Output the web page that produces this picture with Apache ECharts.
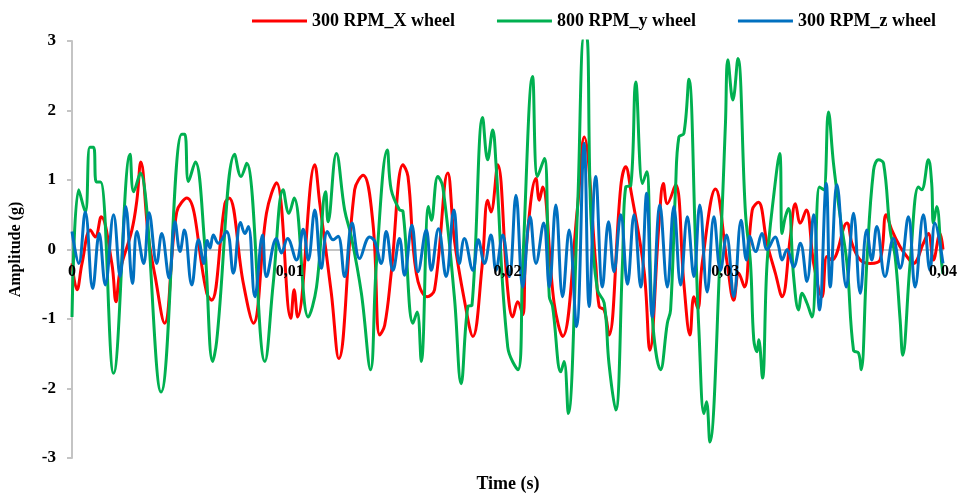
<!DOCTYPE html>
<html>
<head>
<meta charset="utf-8">
<script src="https://cdn.jsdelivr.net/npm/echarts@6/dist/echarts.min.js"></script>
<style>html,body{margin:0;padding:0;background:#fff;}#chart{width:967px;height:494px;}</style>
</head>
<body>
<div id="chart"></div>
<script>
// Series names
const seriesNames = ['300 RPM_X wheel', '800 RPM_y wheel', '300 RPM_z wheel'];
// Tick labels
const xTickLabels = ['0', '0,01', '0,02', '0,03', '0,04'];
const yTickLabels = ['-3', '-2', '-1', '0', '1', '2', '3'];

// [time (s), amplitude (g)]
const redX = [[0,-0.2],[0.00023,-0.58],[0.00046,-0.2],[0.00084,0.28],[0.00107,0.18],[0.00134,0.47],[0.00183,-0.2],[0.00202,-0.75],[0.00221,-0.3],[0.00275,0.28],[0.00298,0.71],[0.00316,1.26],[0.00351,0.18],[0.00382,-0.39],[0.00425,-1.06],[0.00481,0.54],[0.00527,0.74],[0.00619,-0.63],[0.00641,-0.73],[0.00702,0.66],[0.00721,0.74],[0.00787,-0.49],[0.00833,-1.06],[0.00893,0.52],[0.00939,0.96],[0.01005,-0.99],[0.01020,-0.58],[0.01036,-0.97],[0.01115,1.22],[0.01138,0.66],[0.01191,-0.63],[0.01225,-1.57],[0.01298,0.86],[0.01337,1.07],[0.01382,0.38],[0.01413,-1.23],[0.01436,-1.09],[0.01466,-0.34],[0.01520,1.22],[0.01543,1.05],[0.01581,-0.34],[0.01631,-0.68],[0.01665,-0.58],[0.01726,1.1],[0.01756,0.14],[0.01802,-0.73],[0.01841,-1.25],[0.01883,-0.25],[0.01909,0.71],[0.01924,0.54],[0.01955,1.22],[0.02001,-0.58],[0.02024,-0.97],[0.02047,-0.75],[0.02070,-0.94],[0.02085,0.0],[0.02131,1.02],[0.02146,0.71],[0.02161,0.9],[0.02214,-0.77],[0.02253,-1.25],[0.02322,0.62],[0.02352,1.62],[0.02405,-0.2],[0.02421,-0.82],[0.02444,-0.87],[0.02466,-1.23],[0.02520,0.9],[0.02543,1.19],[0.02566,0.86],[0.02627,-0.3],[0.02654,-1.45],[0.02696,0.38],[0.02716,0.95],[0.02734,0.66],[0.02772,0.93],[0.02810,-0.49],[0.02838,-1.23],[0.02856,-0.68],[0.02874,-0.85],[0.02894,-0.2],[0.02955,0.87],[0.03009,-0.2],[0.03039,-0.73],[0.03062,-0.34],[0.03088,-0.54],[0.03124,0.57],[0.03152,0.68],[0.03192,0.09],[0.03230,-0.34],[0.03261,-0.68],[0.03299,0.18],[0.03322,0.66],[0.03345,0.38],[0.03372,0.57],[0.03406,-0.2],[0.03444,-0.68],[0.03467,-0.1],[0.03490,-0.15],[0.03559,0.38],[0.03582,0.09],[0.03620,-0.15],[0.03666,-0.2],[0.03711,-0.15],[0.03739,0.5],[0.03765,0.28],[0.03803,0.04],[0.03834,-0.1],[0.03864,-0.2],[0.03910,0.09],[0.03933,0.23],[0.03956,-0.15],[0.03986,0.23],[0.04,0.0]];

const greenY = [[0,-0.97],[0.00031,0.86],[0.00061,0.54],[0.00082,1.47],[0.00099,1.47],[0.00112,0.97],[0.00131,0.97],[0.00191,-1.78],[0.00267,1.37],[0.00283,0.83],[0.00313,1.1],[0.00409,-2.05],[0.00504,1.66],[0.00518,1.66],[0.00535,0.98],[0.00566,1.26],[0.00609,0.09],[0.00646,-1.61],[0.00664,-1.33],[0.00748,1.37],[0.00776,1.05],[0.00802,1.24],[0.00886,-1.61],[0.00924,-0.49],[0.00970,0.86],[0.00996,0.52],[0.01020,0.74],[0.01085,-0.97],[0.01123,-0.54],[0.01165,0.83],[0.01176,0.4],[0.01214,1.38],[0.01252,0.57],[0.01283,0.18],[0.01329,-0.63],[0.01371,-1.73],[0.01398,-0.2],[0.01448,1.43],[0.01466,0.86],[0.01504,0.57],[0.01520,0.55],[0.01566,-1.06],[0.01585,-0.9],[0.01604,-1.61],[0.01637,0.62],[0.01650,0.42],[0.01680,1.05],[0.01703,0.9],[0.01756,-0.68],[0.01787,-1.93],[0.01818,-0.82],[0.01837,-0.8],[0.01886,1.9],[0.01909,1.29],[0.01932,1.72],[0.01947,1.24],[0.02001,-1.4],[0.02048,-1.73],[0.02070,-0.2],[0.02115,2.49],[0.02138,1.05],[0.02169,1.31],[0.02192,-0.68],[0.02207,-0.82],[0.02245,-1.76],[0.02260,-1.61],[0.02279,-2.36],[0.02322,0.62],[0.02351,3.05],[0.02364,3.05],[0.02383,0.47],[0.02413,-0.58],[0.02444,-0.77],[0.02466,-1.64],[0.02497,-2.31],[0.02528,-0.2],[0.02543,0.9],[0.02566,0.92],[0.02589,2.41],[0.02620,0.95],[0.02639,1.12],[0.02665,-0.97],[0.02703,-1.73],[0.02734,-1.06],[0.02749,-0.87],[0.02772,0.9],[0.02787,1.62],[0.02810,1.67],[0.02833,2.45],[0.02864,0.04],[0.02879,-1.16],[0.02902,-2.36],[0.02914,-2.19],[0.02929,-2.77],[0.02978,0.04],[0.03001,1.82],[0.03012,2.73],[0.03035,2.15],[0.03058,2.75],[0.03093,0.52],[0.03116,-0.2],[0.03131,-1.3],[0.03146,-1.47],[0.03154,-1.3],[0.03171,-1.85],[0.03192,-0.2],[0.03222,0.76],[0.03250,1.38],[0.03261,0.23],[0.03276,0.47],[0.03291,0.59],[0.03314,-0.39],[0.03337,-0.87],[0.03353,-0.63],[0.03375,-0.77],[0.03398,-0.97],[0.03433,0.9],[0.03452,0.86],[0.03474,1.98],[0.03497,1.24],[0.03528,0.47],[0.03559,-0.2],[0.03589,-1.45],[0.03612,-1.49],[0.03624,-1.73],[0.03650,-0.2],[0.03681,1.14],[0.03704,1.29],[0.03727,1.24],[0.03757,0.28],[0.03780,-0.1],[0.03803,-1.01],[0.03815,-1.52],[0.03849,-0.2],[0.03887,0.9],[0.03902,0.86],[0.03933,1.29],[0.03948,0.95],[0.03956,0.38],[0.03971,0.62],[0.03994,-0.2],[0.04,-0.35]];

const blueZ = [[0,0.26],[0.00031,-0.2],[0.00061,0.54],[0.00095,-0.56],[0.00125,0.23],[0.00153,-0.51],[0.00191,0.5],[0.00221,-0.39],[0.00247,0.62],[0.00278,-0.49],[0.00298,0.26],[0.00329,-0.2],[0.00354,0.53],[0.00389,-0.2],[0.00412,0.23],[0.00446,-0.41],[0.00473,0.4],[0.00496,-0.03],[0.00516,0.28],[0.00550,-0.51],[0.00581,0.14],[0.00606,-0.2],[0.00621,0.13],[0.00634,0.02],[0.00649,0.21],[0.00672,0.09],[0.00710,0.26],[0.00741,-0.34],[0.00774,0.39],[0.00794,0.23],[0.00810,0.33],[0.00840,-0.68],[0.00875,0.21],[0.00893,-0.39],[0.00939,0.16],[0.00962,-0.05],[0.00990,0.16],[0.01031,-0.15],[0.01062,0.29],[0.01085,-0.15],[0.01115,0.57],[0.01145,-0.27],[0.01173,0.26],[0.01199,0.14],[0.01222,0.19],[0.01252,-0.39],[0.01286,0.38],[0.01321,-0.13],[0.01367,0.18],[0.01390,0.12],[0.01420,-0.2],[0.01443,0.26],[0.01474,-0.3],[0.01504,0.16],[0.01527,-0.37],[0.01561,0.35],[0.01589,-0.32],[0.01627,0.28],[0.01650,-0.3],[0.01683,0.3],[0.01718,-0.39],[0.01754,0.57],[0.01779,-0.2],[0.01802,0.16],[0.01841,-0.3],[0.01866,0.14],[0.01894,-0.2],[0.01924,0.21],[0.01947,-0.3],[0.01978,0.21],[0.02008,-0.39],[0.02039,0.78],[0.02070,-0.54],[0.02104,0.47],[0.02131,-0.2],[0.02166,0.38],[0.02192,-0.54],[0.02222,0.64],[0.02253,-0.68],[0.02283,0.28],[0.02317,-1.11],[0.02352,1.53],[0.02375,-0.82],[0.02405,1.05],[0.02436,-0.54],[0.02464,0.4],[0.02489,-0.32],[0.02520,0.5],[0.02551,-0.5],[0.02581,0.5],[0.02612,-0.54],[0.02639,0.81],[0.02665,-0.97],[0.02700,0.64],[0.02734,-0.54],[0.02764,0.62],[0.02795,-0.51],[0.02826,0.47],[0.02856,-0.39],[0.02883,0.64],[0.02917,-0.61],[0.02948,0.47],[0.02978,-0.3],[0.03006,0.21],[0.03039,-0.68],[0.03073,0.42],[0.03097,-0.15],[0.03113,0.19],[0.03139,-0.03],[0.03169,0.23],[0.03192,0.0],[0.03230,0.18],[0.03245,0.05],[0.03261,-0.15],[0.03284,0.0],[0.03314,-0.25],[0.03345,0.09],[0.03375,-0.46],[0.03406,0.5],[0.03433,-0.87],[0.03464,0.95],[0.03482,-0.54],[0.03513,0.93],[0.03556,-0.54],[0.03589,0.52],[0.03620,-0.63],[0.03650,0.28],[0.03673,-0.15],[0.03696,0.33],[0.03734,-0.39],[0.03772,0.16],[0.03803,-0.27],[0.03841,0.47],[0.03872,-0.54],[0.03910,0.5],[0.03940,-0.3],[0.03963,0.38],[0.04,-0.2]];

const FONT = '"Liberation Serif", "Times New Roman", serif';
const colors = ['#FF0000', '#00B050', '#0070C0'];
const chart = echarts.init(document.getElementById('chart'), null, {renderer: 'canvas'});
const mkSeries = (name, data, color) => ({
  name: name, type: 'line', data: data, smooth: 0.4, symbol: 'none', showSymbol: false,
  xAxisIndex: 0, lineStyle: {color: color, width: 3}, itemStyle: {color: color}, clip: true
});
const xBase = {type: 'value', min: 0, max: 0.04, interval: 0.01, position: 'bottom', offset: -208.5,
  axisTick: {show: false}, splitLine: {show: false}};
chart.setOption({
  animation: false,
  backgroundColor: '#fff',
  grid: {left: 70, right: 24, top: 41, bottom: 36, containLabel: false},
  legend: {
    top: 7, left: 247, itemWidth: 55, itemHeight: 3, itemGap: 42, icon: 'rect',
    textStyle: {fontFamily: FONT, fontWeight: 'bold', fontSize: 18, color: '#000'},
    data: seriesNames
  },
  xAxis: [
    Object.assign({}, xBase, {
      axisLine: {show: true, onZero: false, lineStyle: {color: '#c4c4c4', width: 2}},
      axisLabel: {show: false}
    }),
    Object.assign({}, xBase, {
      z: 10,
      axisLine: {show: false, onZero: false},
      axisLabel: {
        margin: 14, color: '#000', fontFamily: FONT, fontWeight: 'bold', fontSize: 16,
        formatter: v => xTickLabels[Math.round(v / 0.01)]
      }
    })
  ],
  yAxis: {
    type: 'value', min: -3, max: 3, interval: 1,
    name: 'Amplitude (g)', nameLocation: 'middle', nameGap: 48, nameRotate: 90,
    nameTextStyle: {fontFamily: FONT, fontWeight: 'bold', fontSize: 16, color: '#000'},
    axisLine: {show: true, lineStyle: {color: '#c4c4c4', width: 2}},
    axisTick: {show: true, length: 5, lineStyle: {color: '#c4c4c4', width: 2}},
    splitLine: {show: false},
    axisLabel: {
      margin: 16, color: '#000', fontFamily: FONT, fontWeight: 'bold', fontSize: 17,
      formatter: v => yTickLabels[Math.round(v) + 3]
    }
  },
  graphic: [{
    type: 'text', x: 508, y: 484,
    style: {text: 'Time (s)', font: 'bold 18px ' + FONT, fill: '#000', textAlign: 'center', textVerticalAlign: 'middle'}
  }],
  series: [
    mkSeries(seriesNames[0], redX, colors[0]),
    mkSeries(seriesNames[1], greenY, colors[1]),
    mkSeries(seriesNames[2], blueZ, colors[2])
  ]
});
</script>
</body>
</html>
